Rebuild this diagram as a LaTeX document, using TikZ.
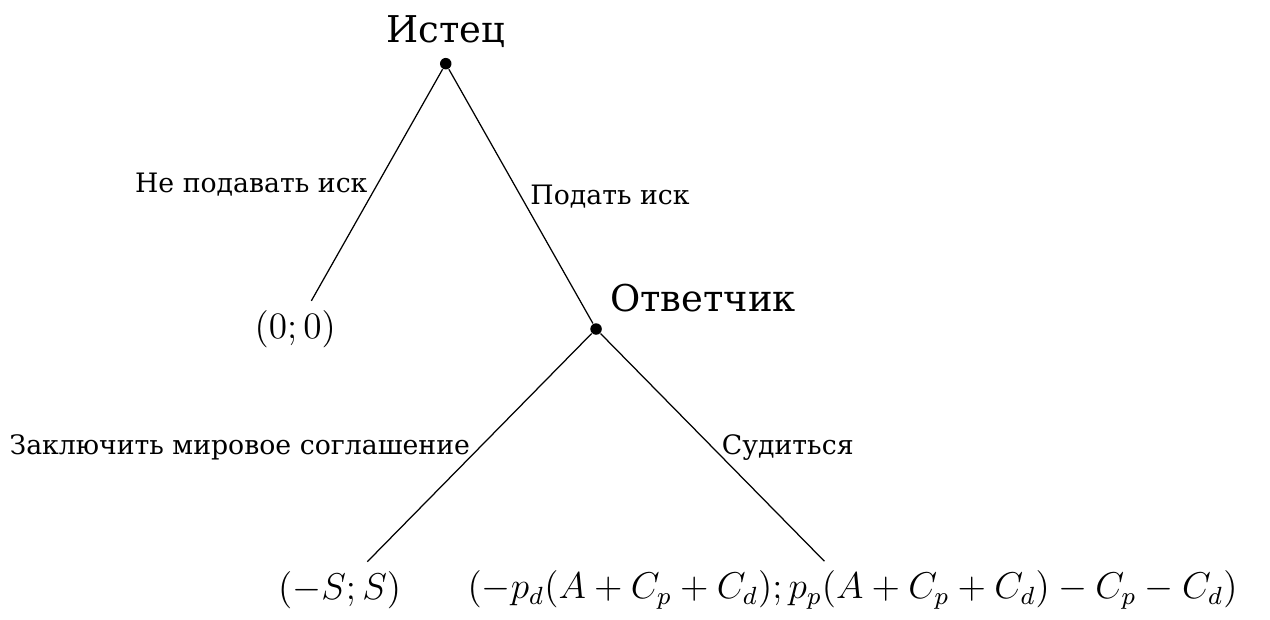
\documentclass[tikz,border=0pt]{standalone}
\usepackage[no-math]{fontspec}
\setmainfont{DejaVu Serif}[Scale=0.86]
\usepackage{amsmath}
\usepackage{tikz}
\usetikzlibrary{positioning}
\tikzset{
  dec/.style={circle,fill=black,inner sep=0pt,minimum size=3.7pt},
  leaf/.style={font=\large},
  move/.style={font=\rmfamily\normalsize},
  who/.style={font=\rmfamily\fontsize{13.8pt}{16pt}\selectfont},
}

\begin{document}
\begin{tikzpicture}
\useasboundingbox (-5.04,0.72) rectangle (9.32,-6.28);
% decision nodes
\node[dec, label={[who]above:Истец}] (ist) at (0,0) {};
\node[dec, label={[who,yshift=1pt]above right:Ответчик}] (otv) at (1.7,-3) {};
% payoffs
\node[leaf] (nope) at (-1.7,-3) {$(0;0)$};
\node[leaf] (settle) at (-1.2,-5.95) {$(-S;S)$};
\node[leaf] (trial) at (4.6,-5.95) {$(-p_d(A+C_p+C_d);p_p(A+C_p+C_d)-C_p-C_d)$};
% moves
\draw (ist) -- node[move,left]{Не подавать иск} (nope);
\draw (ist) -- node[move,right]{Подать иск} (otv);
\draw (otv) -- node[move,left]{Заключить мировое соглашение} (settle);
\draw (otv) -- node[move,right]{Судиться} (trial);
\end{tikzpicture}
\end{document}
